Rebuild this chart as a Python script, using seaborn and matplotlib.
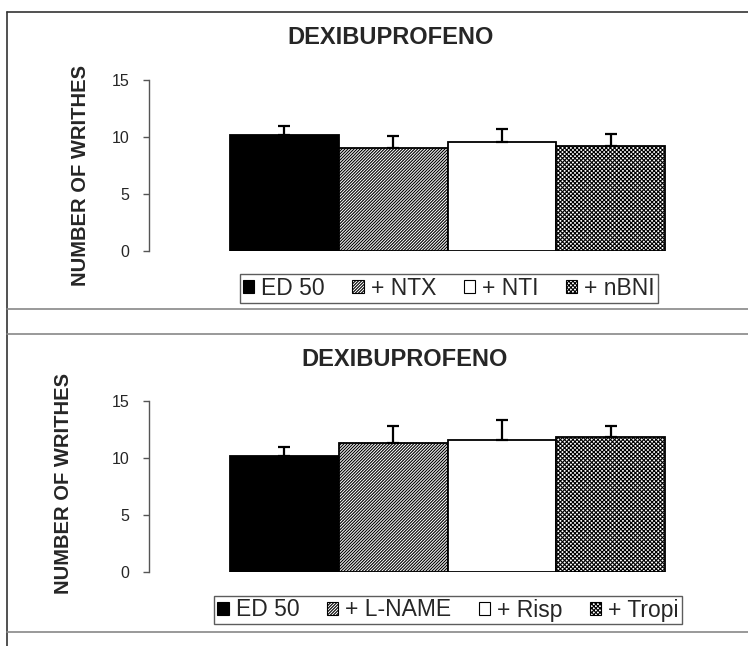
import matplotlib
matplotlib.use("Agg")
import matplotlib.pyplot as plt
from matplotlib.lines import Line2D
from matplotlib.patches import Patch
import seaborn as sns
import pandas as pd
import numpy as np

# data
groups_top = ["ED 50", "+ NTX", "+ NTI", "+ nBNI"]
means_top = [10.2, 9.0, 9.6, 9.2]
sem_top = [0.8, 1.1, 1.1, 1.1]

groups_bot = ["ED 50", "+ L-NAME", "+ Risp", "+ Tropi"]
means_bot = [10.2, 11.3, 11.6, 11.8]
sem_bot = [0.8, 1.55, 1.75, 1.0]

title = "DEXIBUPROFENO"
ylabel = "NUMBER OF WRITHES"
yticks = [0, 5, 10, 15]

sns.set_theme(style="white")
plt.rcParams['font.family'] = ['Liberation Sans', 'DejaVu Sans']
plt.rcParams['hatch.linewidth'] = 0.8

W, H = 748, 646
fig = plt.figure(figsize=(W / 100, H / 100), dpi=100)

fills = ["black", "white", "white", "white"]
hatches = [None, "/" * 11, None, "x" * 8]


def px_axes(left, top, right, bottom):
    return fig.add_axes([left / W, 1 - bottom / H, (right - left) / W, (bottom - top) / H])


def panel(ax, groups, means, sem):
    df = pd.DataFrame({"group": groups, "mean": means})
    sns.barplot(data=df, x="group", y="mean", hue="group", palette=fills,
                width=1.0, errorbar=None, legend=False, ax=ax,
                edgecolor="black", linewidth=1.3)
    for p, h in zip(ax.patches, hatches):
        if h:
            p.set_hatch(h)
    x = np.arange(len(groups))
    ax.errorbar(x, means, yerr=[np.zeros(len(sem)), sem], fmt="none",
                ecolor="black", elinewidth=1.6, capsize=4.5, capthick=1.6)
    ax.set_ylim(0, 15)
    ax.set_xlim(-1.245, 3.82)
    ax.set_yticks(yticks)
    ax.set_xticks([])
    ax.set_xlabel("")
    ax.set_ylabel("")
    for s in ["top", "right", "bottom"]:
        ax.spines[s].set_visible(False)
    ax.spines["left"].set_color("#555555")
    ax.spines["left"].set_linewidth(1.0)
    ax.tick_params(axis="y", direction="out", length=4, width=1.0,
                   color="#555555", labelsize=11.5, pad=10, left=True)
    ax.set_facecolor("none")

    handles = [Patch(facecolor=f, edgecolor="black", hatch=h, linewidth=0.8)
               for f, h in zip(fills, hatches)]
    return handles


ax1 = px_axes(149, 80, 700, 251)
h1 = panel(ax1, groups_top, means_top, sem_top)
ax2 = px_axes(149, 401, 700, 572)
h2 = panel(ax2, groups_bot, means_bot, sem_bot)

leg_kw = dict(ncol=4, frameon=True, fancybox=False, fontsize=16.5,
              handlelength=0.5, handleheight=0.5, handletextpad=0.3,
              columnspacing=1.2, borderpad=0.12, loc="center",
              edgecolor="#333333", borderaxespad=0)
l1 = fig.legend(h1, groups_top, bbox_to_anchor=(449 / W, 1 - 288.5 / H), **leg_kw)
l2 = fig.legend(h2, groups_bot, bbox_to_anchor=(448 / W, 1 - 610 / H), **leg_kw)
for l in (l1, l2):
    l.get_frame().set_linewidth(1.0)

# titles and y labels
fig.text(391 / W, 1 - 38 / H, title, ha="center", va="center",
         fontsize=17, fontweight="bold")
fig.text(405 / W, 1 - 360 / H, title, ha="center", va="center",
         fontsize=17, fontweight="bold")
fig.text(80 / W, 1 - 176 / H, ylabel, ha="center", va="center",
         rotation=90, fontsize=14.5, fontweight="bold")
fig.text(64 / W, 1 - 483 / H, ylabel, ha="center", va="center",
         rotation=90, fontsize=14.5, fontweight="bold")

# panel frame lines
def fline(x0, y0, x1, y1, color, lw):
    fig.add_artist(Line2D([x0 / W, x1 / W], [1 - y0 / H, 1 - y1 / H],
                          color=color, linewidth=lw, transform=fig.transFigure))

fline(7, 12, 748, 12, "#333333", 1.2)
fline(7, 12, 7, 646, "#333333", 1.2)
fline(7, 309, 748, 309, "#888888", 1.2)
fline(7, 334, 748, 334, "#888888", 1.2)
fline(7, 632, 748, 632, "#888888", 1.2)

fig.savefig("out.png", dpi=100, facecolor="white")
